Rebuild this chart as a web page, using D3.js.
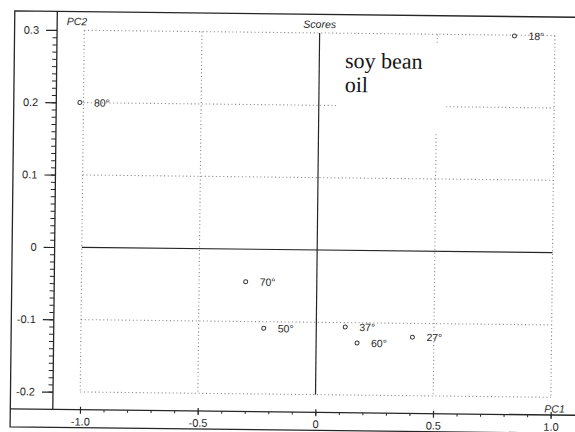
<!DOCTYPE html>
<html>
<head>
<meta charset="utf-8">
<script src="https://cdn.jsdelivr.net/npm/d3@7"></script>
<style>
  html, body { margin: 0; padding: 0; background: #fff; }
  svg { display: block; }
  text { font-family: Arial, "Liberation Sans", sans-serif; fill: #2a2a2a; }
  text.note { font-family: "Liberation Serif", "Times New Roman", serif; fill: #151515; }
</style>
</head>
<body>
<svg id="chart" width="575" height="432"></svg>
<script>
// PCA score plot: PC1 vs PC2, samples labelled by temperature
const sampleLabels = ["80°", "18°", "70°", "50°", "37°", "60°", "27°"];
const pc1Scores   = [-1.015, 0.828, -0.302, -0.223, 0.123, 0.174, 0.409];
const pc2Scores   = [0.200, 0.299, -0.045, -0.109, -0.106, -0.128, -0.119];

const xTicks = [-1.0, -0.5, 0, 0.5, 1.0];
const xTickLabels = ["-1.0", "-0.5", "0", "0.5", "1.0"];
const yTicks = [0.3, 0.2, 0.1, 0, -0.1, -0.2];
const yTickLabels = ["0.3", "0.2", "0.1", "0", "-0.1", "-0.2"];
const xGrid = [-1.0, -0.5, 0.5, 1.0];
const yGrid = [0.3, 0.2, 0.1, -0.1, -0.2];
const noteLines = ["soy bean", "oil"];

const ink = "#262626";

const svg = d3.select("#chart");
// the whole sheet sits slightly tilted
const g = svg.append("g").attr("transform", "rotate(0.65 287.5 216)");

const x = d3.scaleLinear().domain([-1, 1]).range([82.2, 552.9]);
const y = d3.scaleLinear().domain([-0.2, 0.3]).range([394.3, 32.6]);

const frame = { left: 12.5, top: 14, right: 620, bottom: 430, yAxisX: 55, xAxisY: 412 };

// outer frame and axis panels
g.append("path")
  .attr("d", `M${frame.right},${frame.top}H${frame.left}V${frame.bottom}H${frame.right}`)
  .attr("fill", "none").attr("stroke", ink).attr("stroke-width", 1.3);
g.append("line")
  .attr("x1", frame.yAxisX).attr("x2", frame.yAxisX)
  .attr("y1", frame.top).attr("y2", frame.xAxisY)
  .attr("stroke", ink).attr("stroke-width", 1.3);
g.append("line")
  .attr("x1", frame.left).attr("x2", frame.right)
  .attr("y1", frame.xAxisY).attr("y2", frame.xAxisY)
  .attr("stroke", ink).attr("stroke-width", 1.3);

// dotted grid
const grid = g.append("g")
  .attr("stroke", "#8a8a8a").attr("stroke-width", 1.1)
  .attr("stroke-dasharray", "1.1 2.6").attr("fill", "none");
grid.selectAll("line.v").data(xGrid).join("line").attr("class", "v")
  .attr("x1", d => x(d)).attr("x2", d => x(d))
  .attr("y1", y(0.3)).attr("y2", y(-0.2));
grid.selectAll("line.h").data(yGrid).join("line").attr("class", "h")
  .attr("x1", x(-1)).attr("x2", x(1))
  .attr("y1", d => y(d)).attr("y2", d => y(d));

// zero lines
g.append("line")
  .attr("x1", x(-1)).attr("x2", x(1)).attr("y1", y(0)).attr("y2", y(0))
  .attr("stroke", ink).attr("stroke-width", 1.2);
g.append("line")
  .attr("x1", x(0)).attr("x2", x(0)).attr("y1", y(0.3)).attr("y2", y(-0.2))
  .attr("stroke", ink).attr("stroke-width", 1.2);

// y axis: minor ticks every 0.01, labelled major ticks every 0.1
const yMinor = d3.range(-20, 31).map(i => i / 100);
g.append("g").attr("transform", `translate(${frame.yAxisX},0)`)
  .call(d3.axisLeft(y).tickValues(yMinor).tickSize(4.5).tickFormat(""))
  .call(a => a.select(".domain").remove())
  .call(a => a.selectAll("line").attr("stroke", ink));
g.append("g").attr("transform", `translate(${frame.yAxisX},0)`)
  .call(d3.axisLeft(y).tickValues(yTicks).tickSize(11).tickPadding(7)
    .tickFormat((d, i) => yTickLabels[i]))
  .call(a => a.select(".domain").remove())
  .call(a => a.selectAll("line").attr("stroke", ink).attr("stroke-width", 1.2))
  .call(a => a.selectAll("text").attr("font-size", 11));

// x axis: minor ticks every 0.1, labelled major ticks every 0.5
const xMinor = d3.range(-10, 11).map(i => i / 10);
g.append("g").attr("transform", `translate(0,${frame.xAxisY})`)
  .call(d3.axisBottom(x).tickValues(xMinor).tickSize(2.5).tickFormat(""))
  .call(a => a.select(".domain").remove())
  .call(a => a.selectAll("line").attr("stroke", ink));
g.append("g").attr("transform", `translate(0,${frame.xAxisY})`)
  .call(d3.axisBottom(x).tickValues(xTicks).tickSize(4).tickPadding(4)
    .tickFormat((d, i) => xTickLabels[i]))
  .call(a => a.select(".domain").remove())
  .call(a => a.selectAll("line").attr("y1", -3).attr("stroke", ink).attr("stroke-width", 1.2))
  .call(a => a.selectAll("text").attr("font-size", 11));

// axis titles
g.append("text").attr("x", 64.5).attr("y", 27.5)
  .attr("font-size", 10.5).attr("font-style", "italic").text("PC2");
g.append("text").attr("x", x(0)).attr("y", 27.5).attr("text-anchor", "middle")
  .attr("font-size", 10.5).attr("font-style", "italic").text("Scores");
g.append("text").attr("x", 567).attr("y", 409.5).attr("text-anchor", "end")
  .attr("font-size", 10.5).attr("font-style", "italic").text("PC1");

// annotation box, laid over the grid
g.append("rect").attr("x", 335).attr("y", 43).attr("width", 110).attr("height", 88)
  .attr("fill", "#fff");
g.append("text").attr("class", "note").attr("x", 343.3).attr("y", 67.3)
  .attr("font-size", 22)
  .selectAll("tspan").data(noteLines).join("tspan")
  .attr("x", 343.3).attr("dy", (d, i) => i === 0 ? 0 : 24).text(d => d);

// score points
const samples = sampleLabels.map((label, i) => ({ label, pc1: pc1Scores[i], pc2: pc2Scores[i] }));
const pts = g.append("g").selectAll("g").data(samples).join("g")
  .attr("transform", d => `translate(${x(d.pc1)},${y(d.pc2)})`);
pts.append("circle").attr("r", 2).attr("fill", "#fff")
  .attr("stroke", "#3a3a3a").attr("stroke-width", 1);
pts.append("text").attr("x", 14).attr("dy", "0.36em")
  .attr("font-size", 10.5).text(d => d.label);
</script>
</body>
</html>
